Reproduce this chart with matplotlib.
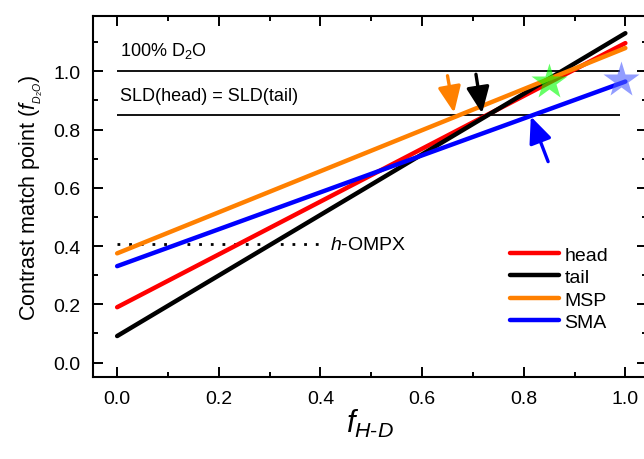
import matplotlib
matplotlib.use('Agg')
import matplotlib.pyplot as plt
import numpy as np

plt.rcParams['font.family'] = ['Liberation Sans', 'DejaVu Sans']
plt.rcParams['mathtext.fontset'] = 'custom'
plt.rcParams['mathtext.it'] = 'Liberation Sans:italic'
plt.rcParams['mathtext.rm'] = 'Liberation Sans'

# Data
f_hd = [0.0, 1.0]
series_names = ['head', 'tail', 'MSP', 'SMA']
series_colors = ['#ff0000', '#000000', '#ff8000', '#0000ff']
series_values = {
    'head': [0.19, 1.097],
    'tail': [0.091, 1.131],
    'MSP': [0.375, 1.08],
    'SMA': [0.331, 0.965],
}
d2o_level = 1.0
sld_match_level = 0.85
ompx_level = 0.407

stars_x = [0.849, 0.991]
stars_y = [0.965, 0.971]
stars_colors = ['#00ff00', '#4a5cff']

# arrows: (tail xy, tip xy, color)
arrows = [
    ((0.650, 0.985), (0.663, 0.858), '#ff8000'),
    ((0.706, 0.990), (0.718, 0.856), '#000000'),
    ((0.848, 0.690), (0.814, 0.845), '#0000ff'),
]

fig = plt.figure(figsize=(6.44, 4.6), dpi=100)
ax = fig.add_axes([0.144, 0.178, 0.861, 0.785])

ax.hlines([d2o_level, sld_match_level], 0.0, 0.99, color='black', lw=1.3)
ax.plot([0.0, 0.4], [ompx_level, ompx_level], ls=(0, (1, 3.2)), color='black', lw=2)
ax.text(0.418, ompx_level, r'$h$-OMPX', fontsize=14, va='center', ha='left')
ax.text(0.005, 1.075, r'100% D$_2$O', fontsize=13, va='center', ha='left')
ax.text(0.005, 0.917, 'SLD(head) = SLD(tail)', fontsize=13, va='center', ha='left')

for name, col in zip(series_names, series_colors):
    ax.plot(f_hd, series_values[name], color=col, lw=3.2, label=name,
            solid_capstyle='round')

for sx, sy, sc in zip(stars_x, stars_y, stars_colors):
    ax.plot(sx, sy, marker='*', ms=27, color=sc, alpha=0.6, mec='none')

for (tx, ty), (hx, hy), col in arrows:
    ax.annotate('', xy=(hx, hy), xytext=(tx, ty),
                arrowprops=dict(arrowstyle='-|>,head_length=1.6,head_width=0.7',
                                color=col, lw=2.4, shrinkA=0, shrinkB=0))

ax.set_xlim(-0.048, 1.043)
ax.set_ylim(-0.05, 1.19)
ax.set_xticks(np.arange(0, 1.01, 0.2))
ax.set_xticks(np.arange(0.1, 1.0, 0.2), minor=True)
ax.set_yticks(np.arange(0, 1.01, 0.2))
ax.set_yticks(np.arange(0.1, 1.2, 0.2), minor=True)
ax.xaxis.set_major_formatter(plt.FormatStrFormatter('%.1f'))
ax.yaxis.set_major_formatter(plt.FormatStrFormatter('%.1f'))
ax.tick_params(which='both', direction='in', top=True, right=True, width=1.4, labelsize=14)
ax.tick_params(which='major', length=7, pad=9)
ax.tick_params(which='minor', length=3.5)
for s in ax.spines.values():
    s.set_linewidth(1.5)

ax.set_ylabel(r'Contrast match point ($f_{_{D_2O}}$)', fontsize=15.5, labelpad=6)
ax.set_xlabel(r'$f_{H\text{-}D}$', fontsize=22, labelpad=0)

ax.legend(loc='upper left', bbox_to_anchor=(0.735, 0.39), frameon=False,
          fontsize=14, handlelength=2.5, handletextpad=0.3, labelspacing=0.25,
          borderpad=0)

fig.savefig('out.png', dpi=100)
